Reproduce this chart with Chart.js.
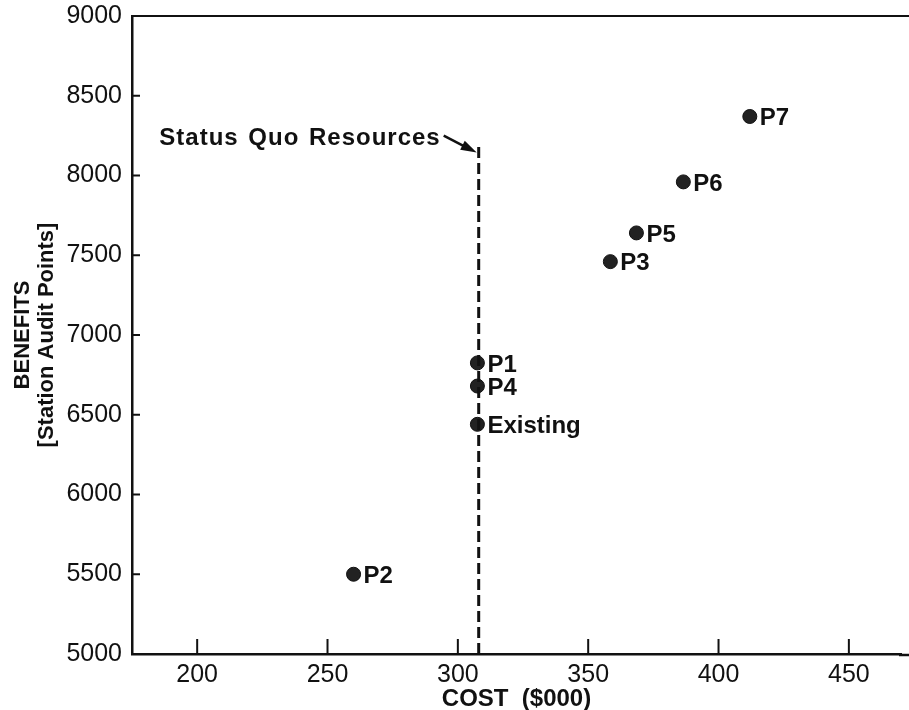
<!DOCTYPE html>
<html>
<head>
<meta charset="utf-8">
<script src="https://cdn.jsdelivr.net/npm/chart.js@4.4.1/dist/chart.umd.min.js"></script>
<style>
  body { margin: 0; background: #fff; }
  #wrap { width: 909px; height: 710px; }
</style>
</head>
<body>
<div id="wrap"><canvas id="chart" width="909" height="710"></canvas></div>
<script>
// cost / benefit of each alternative
const projects = ['Existing', 'P1', 'P2', 'P3', 'P4', 'P5', 'P6', 'P7'];
const costs = [307.5, 307.5, 260, 358.5, 307.5, 368.5, 386.5, 412];
const benefits = [6440, 6825, 5500, 7460, 6680, 7640, 7960, 8370];

// status quo resources line
const statusQuoCost = [308, 308];
const statusQuoBenefit = [5000, 8200];
const statusQuoLabel = 'Status Quo Resources';

const xTicks = [200, 250, 300, 350, 400, 450];
const yTicks = [5000, 5500, 6000, 6500, 7000, 7500, 8000, 8500, 9000];

const ink = '#111';
const fontFamily = '"Liberation Sans", Arial, sans-serif';

const pointData = projects.map((p, i) => ({ x: costs[i], y: benefits[i] }));
const lineData = statusQuoCost.map((c, i) => ({ x: c, y: statusQuoBenefit[i] }));

const decorations = {
    id: 'decorations',
    afterDatasetsDraw(chart) {
        const ctx = chart.ctx;
        const area = chart.chartArea;
        const xs = chart.scales.x;
        const ys = chart.scales.y;
        ctx.save();
        ctx.strokeStyle = ink;
        ctx.fillStyle = ink;

        // top frame line, and both horizontal lines run to the page edge
        ctx.lineWidth = 2;
        ctx.beginPath();
        ctx.moveTo(area.left, area.top);
        ctx.lineTo(chart.width, area.top);
        ctx.stroke();
        ctx.lineWidth = 2.5;
        ctx.beginPath();
        ctx.moveTo(area.right - 2, area.bottom + 1);
        ctx.lineTo(chart.width, area.bottom + 1);
        ctx.stroke();

        // inward tick marks
        ctx.lineWidth = 2;
        yTicks.forEach(v => {
            const y = ys.getPixelForValue(v);
            ctx.beginPath();
            ctx.moveTo(area.left, y);
            ctx.lineTo(area.left + 8, y);
            ctx.stroke();
        });
        xTicks.forEach(v => {
            const x = xs.getPixelForValue(v);
            ctx.beginPath();
            ctx.moveTo(x, area.bottom);
            ctx.lineTo(x, area.bottom - 15);
            ctx.stroke();
        });

        // point labels
        const meta = chart.getDatasetMeta(1);
        ctx.font = 'bold 24px ' + fontFamily;
        ctx.textAlign = 'left';
        ctx.textBaseline = 'middle';
        meta.data.forEach((el, i) => {
            ctx.fillText(projects[i], el.x + 10, el.y + 2);
        });

        // status quo annotation + arrow
        const tx = xs.getPixelForValue(statusQuoCost[1]);
        const ty = ys.getPixelForValue(statusQuoBenefit[1]);
        ctx.textAlign = 'right';
        ctx.font = 'bold 24px ' + fontFamily;
        ctx.letterSpacing = '1px';
        ctx.wordSpacing = '2px';
        ctx.fillText(statusQuoLabel, tx - 38, ty - 5);
        ctx.letterSpacing = '0px';
        ctx.wordSpacing = '0px';

        const sx = tx - 35, sy = ty - 8;
        const ex = tx - 2, ey = ty + 9;
        ctx.lineWidth = 2.5;
        ctx.beginPath();
        ctx.moveTo(sx, sy);
        ctx.lineTo(ex - 8, ey - 4);
        ctx.stroke();
        const ang = Math.atan2(ey - sy, ex - sx);
        ctx.beginPath();
        ctx.moveTo(ex, ey);
        ctx.lineTo(ex - 16 * Math.cos(ang) + 5 * Math.sin(ang), ey - 16 * Math.sin(ang) - 5 * Math.cos(ang));
        ctx.lineTo(ex - 16 * Math.cos(ang) - 5 * Math.sin(ang), ey - 16 * Math.sin(ang) + 5 * Math.cos(ang));
        ctx.closePath();
        ctx.fill();
        ctx.restore();
    }
};

new Chart(document.getElementById('chart'), {
    type: 'scatter',
    data: {
        datasets: [
            {
                type: 'line',
                label: statusQuoLabel,
                data: lineData,
                borderColor: ink,
                borderWidth: 3,
                borderDash: [11, 5],
                pointRadius: 0,
                fill: false
            },
            {
                label: 'Alternatives',
                data: pointData,
                backgroundColor: '#222',
                borderColor: ink,
                borderWidth: 1,
                pointRadius: 7
            }
        ]
    },
    plugins: [decorations],
    options: {
        responsive: false,
        animation: false,
        layout: { padding: { top: 16, right: 0, left: 0, bottom: 0 } },
        plugins: {
            legend: { display: false },
            tooltip: { enabled: false }
        },
        scales: {
            x: {
                type: 'linear',
                min: 175,
                max: 470,
                afterBuildTicks: s => { s.ticks = xTicks.map(v => ({ value: v })); },
                afterFit: s => { s.height = 56; s.paddingLeft = 0; s.paddingRight = 0; },
                grid: { display: false, drawTicks: false },
                border: { display: true, color: ink, width: 2.5 },
                ticks: {
                    color: ink,
                    padding: 6,
                    maxRotation: 0,
                    font: { family: fontFamily, size: 25 }
                },
                title: {
                    display: true,
                    text: 'COST  ($000)',
                    color: ink,
                    padding: 0,
                    font: { family: fontFamily, size: 24, weight: 'bold', lineHeight: 0.9 }
                }
            },
            y: {
                type: 'linear',
                min: 5000,
                max: 9000,
                afterBuildTicks: s => { s.ticks = yTicks.map(v => ({ value: v })); },
                afterFit: s => { s.width = 132; s.paddingTop = 0; s.paddingBottom = 0; },
                grid: { display: false, drawTicks: false },
                border: { display: true, color: ink, width: 2.5 },
                ticks: {
                    color: ink,
                    padding: 10,
                    callback: v => String(v),
                    font: { family: fontFamily, size: 25 }
                },
                title: {
                    display: true,
                    text: ['BENEFITS', '[Station Audit Points]'],
                    color: ink,
                    padding: { top: 11, bottom: 0 },
                    font: { family: fontFamily, size: 22, weight: 'bold', lineHeight: 1.1 }
                }
            }
        }
    }
});
</script>
</body>
</html>
